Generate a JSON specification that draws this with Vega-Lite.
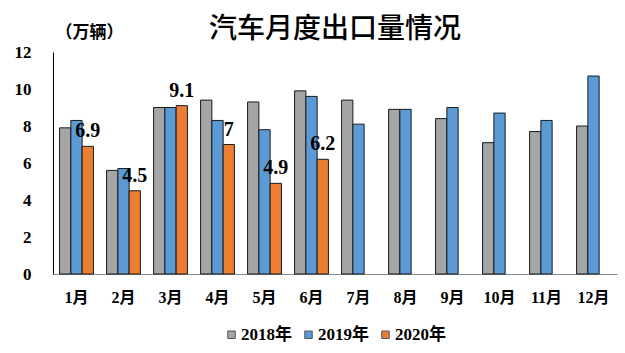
{
  "$schema": "https://vega.github.io/schema/vega-lite/v6.json",
  "width": 564,
  "height": 222,
  "autosize": {"type": "none"},
  "padding": {"left": 53, "top": 52, "right": 8, "bottom": 79},
  "background": "white",
  "title": {"text": "汽车月度出口量情况", "font": "Noto Sans CJK SC", "fontSize": 28, "fontWeight": 500, "color": "#000", "anchor": "middle", "offset": 10, "dy": 31, "frame": "group"},
  "config": {"view": {"stroke": null}},
  "data": {"values": [
    {"month": "1月", "year": "2018年", "value": 7.9},
    {"month": "1月", "year": "2019年", "value": 8.3},
    {"month": "1月", "year": "2020年", "value": 6.9},
    {"month": "2月", "year": "2018年", "value": 5.6},
    {"month": "2月", "year": "2019年", "value": 5.7},
    {"month": "2月", "year": "2020年", "value": 4.5},
    {"month": "3月", "year": "2018年", "value": 9.0},
    {"month": "3月", "year": "2019年", "value": 9.0},
    {"month": "3月", "year": "2020年", "value": 9.1},
    {"month": "4月", "year": "2018年", "value": 9.4},
    {"month": "4月", "year": "2019年", "value": 8.3},
    {"month": "4月", "year": "2020年", "value": 7},
    {"month": "5月", "year": "2018年", "value": 9.3},
    {"month": "5月", "year": "2019年", "value": 7.8},
    {"month": "5月", "year": "2020年", "value": 4.9},
    {"month": "6月", "year": "2018年", "value": 9.9},
    {"month": "6月", "year": "2019年", "value": 9.6},
    {"month": "6月", "year": "2020年", "value": 6.2},
    {"month": "7月", "year": "2018年", "value": 9.4},
    {"month": "7月", "year": "2019年", "value": 8.1},
    {"month": "8月", "year": "2018年", "value": 8.9},
    {"month": "8月", "year": "2019年", "value": 8.9},
    {"month": "9月", "year": "2018年", "value": 8.4},
    {"month": "9月", "year": "2019年", "value": 9.0},
    {"month": "10月", "year": "2018年", "value": 7.1},
    {"month": "10月", "year": "2019年", "value": 8.7},
    {"month": "11月", "year": "2018年", "value": 7.7},
    {"month": "11月", "year": "2019年", "value": 8.3},
    {"month": "12月", "year": "2018年", "value": 8.0},
    {"month": "12月", "year": "2019年", "value": 10.7}
  ]},
  "encoding": {
    "x": {"field": "month", "type": "nominal",
      "sort": ["1月","2月","3月","4月","5月","6月","7月","8月","9月","10月","11月","12月"],
      "scale": {"paddingInner": 0.28, "paddingOuter": 0.14},
      "axis": {"title": null, "labelAngle": 0, "ticks": false, "domainColor": "#888", "domainWidth": 1, "labelFont": "Liberation Serif, Noto Sans CJK SC", "labelFontSize": 16, "labelFontWeight": "bold", "labelColor": "#000", "labelPadding": 15}},
    "xOffset": {"field": "year", "type": "nominal", "scale": {"domain": ["2018年","2019年","2020年"], "paddingInner": 0, "paddingOuter": 0}},
    "y": {"field": "value", "type": "quantitative", "scale": {"domain": [0, 12]},
      "axis": {"values": [0,2,4,6,8,10,12], "grid": false, "ticks": false, "domainColor": "#000", "labelFont": "Liberation Serif", "labelFontSize": 17, "labelFontWeight": "bold", "labelColor": "#000", "labelPadding": 22,
        "title": "（万辆）", "titleAngle": 0, "titleX": 36, "titleY": -20, "titleAlign": "center", "titleBaseline": "middle", "titleFont": "Noto Sans CJK SC", "titleFontSize": 17, "titleFontWeight": "bold", "titleColor": "#000"}}
  },
  "layer": [
    {"mark": {"type": "bar", "stroke": "#1a1a1a", "strokeWidth": 1},
     "encoding": {
       "color": {"field": "year", "type": "nominal",
         "scale": {"domain": ["2018年","2019年","2020年"], "range": ["#A5A5A5","#5B9BD5","#ED7D31"]},
         "legend": {"orient": "none", "legendX": 170, "legendY": 274, "direction": "horizontal", "title": null, "symbolType": "square", "symbolSize": 56, "symbolStrokeColor": "#555", "symbolStrokeWidth": 1, "labelFont": "Liberation Serif, Noto Sans CJK SC", "labelFontSize": 17, "labelFontWeight": "bold", "labelColor": "#000", "labelOffset": 1, "columnPadding": 8}}
     }},
    {"transform": [{"filter": "datum.year == '2020年'"}],
     "mark": {"type": "text", "dy": -15, "fontSize": 20, "font": "Liberation Serif", "fontWeight": "bold", "baseline": "middle", "align": "center", "color": "#000"},
     "encoding": {"text": {"field": "value", "type": "quantitative", "format": ".2~f"}}}
  ]
}
